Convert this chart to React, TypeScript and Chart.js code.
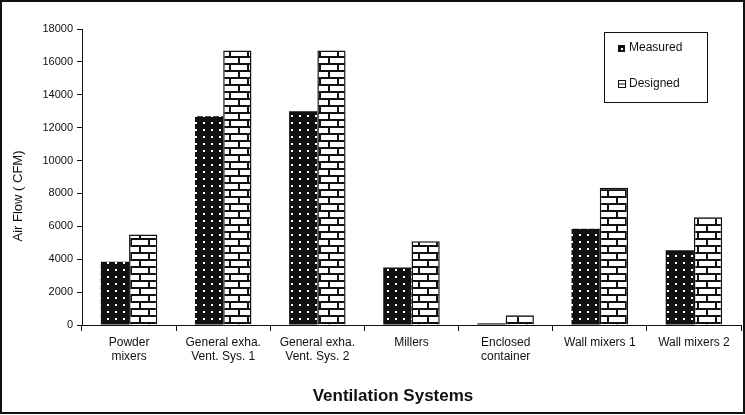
import React, { useEffect, useRef } from "react";
import { Chart, registerables } from "chart.js";
Chart.register(...registerables);

const categories: string[][] = [
  ["Powder", "mixers"],
  ["General exha.", "Vent. Sys. 1"],
  ["General exha.", "Vent. Sys. 2"],
  ["Millers"],
  ["Enclosed", "container"],
  ["Wall mixers 1"],
  ["Wall mixers 2"],
];
const measured = [3850, 12700, 13000, 3500, 100, 5850, 4550];
const designed = [5500, 16700, 16700, 5100, 600, 8350, 6550];
const seriesNames = ["Measured", "Designed"];
const yMin = 0;
const yMax = 18000;
const yStep = 2000;
const yTitle = "Air Flow ( CFM)";
const xTitle = "Ventilation Systems";

const FONT = "'Liberation Sans', Arial, sans-serif";

function dotPattern(ctx: CanvasRenderingContext2D) {
  const c = document.createElement("canvas");
  c.width = 8;
  c.height = 7;
  const g = c.getContext("2d")!;
  g.fillStyle = "#111";
  g.fillRect(0, 0, 8, 7);
  g.fillStyle = "#fff";
  g.fillRect(3, 3, 2, 2);
  return ctx.createPattern(c, "repeat")!;
}

function brickPattern(ctx: CanvasRenderingContext2D) {
  const c = document.createElement("canvas");
  c.width = 18;
  c.height = 14;
  const g = c.getContext("2d")!;
  g.fillStyle = "#fff";
  g.fillRect(0, 0, 18, 14);
  g.fillStyle = "#111";
  g.fillRect(0, 0, 18, 2);
  g.fillRect(0, 7, 18, 2);
  g.fillRect(4, 0, 2, 7);
  g.fillRect(13, 7, 2, 7);
  return ctx.createPattern(c, "repeat")!;
}

const decorPlugin = {
  id: "decor",
  afterDraw(chart: any) {
    const ctx: CanvasRenderingContext2D = chart.ctx;
    ctx.save();
    // outer border
    ctx.strokeStyle = "#111";
    ctx.lineWidth = 2;
    ctx.strokeRect(1, 1, 743, 412);
    // legend box
    ctx.lineWidth = 1;
    ctx.strokeRect(604.5, 32.5, 103, 70);
    // measured marker
    ctx.fillStyle = "#111";
    ctx.fillRect(618, 45, 7, 7);
    ctx.fillStyle = "#fff";
    ctx.fillRect(621, 48, 2, 2);
    // designed marker
    ctx.fillStyle = "#fff";
    ctx.fillRect(618, 80, 7, 7);
    ctx.strokeStyle = "#111";
    ctx.strokeRect(618.5, 80.5, 7, 7);
    ctx.beginPath();
    ctx.moveTo(618.5, 84);
    ctx.lineTo(625.5, 84);
    ctx.stroke();
    ctx.fillStyle = "#111";
    ctx.font = `12px ${FONT}`;
    ctx.textBaseline = "middle";
    ctx.textAlign = "left";
    ctx.fillText(seriesNames[0], 629, 48);
    ctx.fillText(seriesNames[1], 629, 84);
    // axis titles
    ctx.font = `bold 17px ${FONT}`;
    ctx.textAlign = "center";
    ctx.fillText(xTitle, 393, 396);
    ctx.translate(18, 196);
    ctx.rotate(-Math.PI / 2);
    ctx.font = `13px ${FONT}`;
    ctx.fillText(yTitle, 0, 0);
    ctx.restore();
  },
};

export default function App() {
  const ref = useRef<HTMLCanvasElement>(null);
  useEffect(() => {
    const canvas = ref.current!;
    const ctx = canvas.getContext("2d")!;
    const chart = new Chart(ctx, {
      type: "bar",
      data: {
        labels: categories,
        datasets: [
          {
            label: seriesNames[0],
            data: measured,
            backgroundColor: dotPattern(ctx),
            borderWidth: 0,
            categoryPercentage: 0.6,
            barPercentage: 1,
          },
          {
            label: seriesNames[1],
            data: designed,
            backgroundColor: brickPattern(ctx),
            borderColor: "#111",
            borderWidth: 1.5,
            categoryPercentage: 0.6,
            barPercentage: 1,
          },
        ],
      },
      options: {
        responsive: false,
        animation: false,
        layout: { padding: { top: 29, right: 4, left: 0, bottom: 0 } },
        plugins: { legend: { display: false }, tooltip: { enabled: false } },
        scales: {
          x: {
            grid: { drawOnChartArea: false, tickLength: 6, color: "#111", offset: true },
            border: { color: "#111", width: 1 },
            ticks: {
              color: "#111",
              font: { family: FONT, size: 12 },
              maxRotation: 0,
              autoSkip: false,
              padding: 4,
            },
            afterFit: (s: any) => {
              s.height = 90;
            },
          },
          y: {
            min: yMin,
            max: yMax,
            grid: { drawOnChartArea: false, tickLength: 5, color: "#111" },
            border: { color: "#111", width: 1 },
            ticks: {
              stepSize: yStep,
              color: "#111",
              font: { family: FONT, size: 11 },
              padding: 4,
              callback: (v: any) => String(v),
            },
            afterFit: (s: any) => {
              s.width = 82;
            },
          },
        },
      },
      plugins: [decorPlugin],
    } as any);
    return () => chart.destroy();
  }, []);
  return (
    <div style={{ position: "absolute", left: 0, top: 0, width: 745, height: 415, background: "#fff" }}>
      <canvas ref={ref} width={745} height={415} />
    </div>
  );
}
